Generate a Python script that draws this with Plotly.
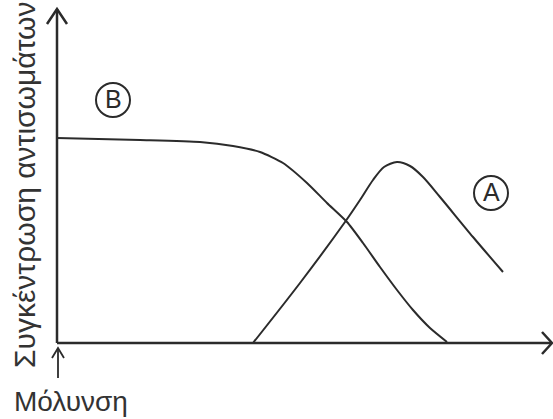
import plotly.graph_objects as go

# Curve B
b_time = [0.0, 0.83, 1.43, 1.76, 2.03, 2.26, 2.50, 2.70, 2.90, 3.06, 3.23, 3.40, 3.56, 3.73, 3.90]
b_conc = [2.05, 2.03, 2.01, 1.97, 1.91, 1.80, 1.60, 1.40, 1.21, 1.00, 0.76, 0.53, 0.33, 0.15, 0.01]
# Curve A
a_time = [1.96, 2.43, 2.88, 3.03, 3.16, 3.27, 3.40, 3.53, 3.66, 3.83, 4.16, 4.46]
a_conc = [0.00, 0.60, 1.21, 1.43, 1.63, 1.76, 1.81, 1.77, 1.66, 1.46, 1.06, 0.71]

labels = {"B": (0.56, 2.43), "A": (4.34, 1.50)}
x_title = "Χρόνος"
y_title = "Συγκέντρωση αντισωμάτων"
origin_label = "Μόλυνση"

INK = "#2b2b2b"
FONT = "Liberation Sans"

fig = go.Figure()
fig.add_trace(go.Scatter(x=b_time, y=b_conc, mode="lines",
                         line=dict(color=INK, width=2, shape="spline", smoothing=0.6),
                         hoverinfo="skip"))
fig.add_trace(go.Scatter(x=a_time, y=a_conc, mode="lines",
                         line=dict(color=INK, width=2, shape="spline", smoothing=0.8),
                         hoverinfo="skip"))

shapes = []
# axes
shapes.append(dict(type="line", xref="x", yref="y", x0=0, y0=0, x1=0, y1=3.34,
                   line=dict(color=INK, width=2.5)))
shapes.append(dict(type="line", xref="x", yref="y", x0=0, y0=0, x1=4.95, y1=0,
                   line=dict(color=INK, width=2.5)))
# arrow heads
shapes.append(dict(type="path", xref="x", yref="y",
                   path="M -0.10,3.19 L 0,3.34 L 0.10,3.19", line=dict(color=INK, width=2.5)))
shapes.append(dict(type="path", xref="x", yref="y",
                   path="M 4.85,0.11 L 4.95,0 L 4.85,-0.11", line=dict(color=INK, width=2.5)))
# small infection arrow
shapes.append(dict(type="line", xref="x", yref="y", x0=0.01, y0=-0.35, x1=0.01, y1=-0.05,
                   line=dict(color=INK, width=1.8)))
shapes.append(dict(type="path", xref="x", yref="y",
                   path="M -0.05,-0.15 L 0.01,-0.05 L 0.07,-0.15", line=dict(color=INK, width=1.8)))
# circled labels
annotations = []
for name, (cx, cy) in labels.items():
    shapes.append(dict(type="circle", xref="x", yref="y",
                       x0=cx - 0.17, x1=cx + 0.17, y0=cy - 0.17, y1=cy + 0.17,
                       line=dict(color=INK, width=2)))
    annotations.append(dict(x=cx, y=cy, xref="x", yref="y", text=name, showarrow=False,
                            yshift=1,
                            font=dict(family=FONT, size=25, color=INK)))

annotations.append(dict(x=4.97, y=-0.24, xref="x", yref="y", text=x_title, showarrow=False,
                        xanchor="right", yanchor="middle",
                        font=dict(family=FONT, size=28, color="#333")))
annotations.append(dict(x=0.14, y=-0.58, xref="x", yref="y", text=origin_label, showarrow=False,
                        xanchor="center", yanchor="middle",
                        font=dict(family=FONT, size=28, color="#333")))
annotations.append(dict(x=-0.33, y=1.58, xref="x", yref="y", text=y_title, showarrow=False,
                        textangle=-90, xanchor="center", yanchor="middle",
                        font=dict(family=FONT, size=30, color="#333")))

fig.update_layout(
    width=553, height=419,
    margin=dict(l=0, r=0, t=0, b=0),
    paper_bgcolor="white", plot_bgcolor="white",
    showlegend=False,
    xaxis=dict(range=[-0.57, 4.96], visible=False, fixedrange=True),
    yaxis=dict(range=[-0.76, 3.43], visible=False, fixedrange=True),
    shapes=shapes, annotations=annotations,
)
fig.write_html("out.html", config={"displayModeBar": False},
               post_script="document.body.style.margin='0';document.body.style.overflow='hidden';")
